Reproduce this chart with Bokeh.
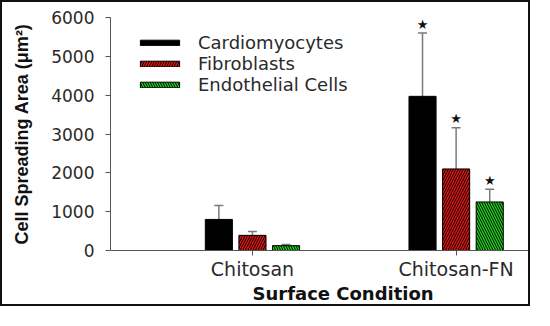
from bokeh.plotting import figure
from bokeh.models import ColumnDataSource, Whisker, TeeHead, Legend, LegendItem, FixedTicker, Title
from bokeh.embed import file_html
from bokeh.resources import INLINE
from bokeh.core.properties import value

# ---- data ----
categories = ["Chitosan", "Chitosan-FN"]
series = ["Cardiomyocytes", "Fibroblasts", "Endothelial Cells"]
cardio_mean = [800, 3970]
cardio_err = [360, 1630]
fibro_mean = [390, 2100]
fibro_err = [100, 1060]
endo_mean = [125, 1250]
endo_err = [30, 330]
significant = [False, True]
y_ticks = [0, 1000, 2000, 3000, 4000, 5000, 6000]

means = [cardio_mean, fibro_mean, endo_mean]
errs = [cardio_err, fibro_err, endo_err]

# ---- styles ----
colors = ["#000000", "#e31414", "#1ed21e"]
hatches = [" ", "/", "\\"]
offsets = [-0.165, 0.0, 0.165]
bar_w = 0.133
AXIS = "#555555"
TXT = "#2a2a2a"
FONT = "DejaVu Sans"

cat_x = [i + 1 for i in range(len(categories))]

p = figure(width=530, height=306, output_backend="svg", toolbar_location=None,
           x_range=(0.303, 2.375), y_range=(0, 6000),
           min_border_left=108, min_border_right=0, min_border_top=15, min_border_bottom=58,
           background_fill_color="white", border_fill_color="white")
p.styles = {"border": "2px solid #111111"}
p.outline_line_color = None
p.xgrid.grid_line_color = None
p.ygrid.grid_line_color = None

items = []
for k, name in enumerate(series):
    xs = [c + offsets[k] for c in cat_x]
    tops = [m + e for m, e in zip(means[k], errs[k])]
    src = ColumnDataSource(dict(x=xs, top=means[k], upper=tops))
    r = p.vbar(x="x", top="top", width=bar_w, source=src,
               fill_color=colors[k], line_color="black", line_width=1,
               hatch_pattern=hatches[k], hatch_color="black", hatch_scale=5, hatch_weight=1)
    items.append(LegendItem(label=name, renderers=[r]))
    w = Whisker(base="x", lower="top", upper="upper", source=src, dimension="height",
                line_color="#7a7a7a", line_width=1.5,
                upper_head=TeeHead(size=9, line_color="#7a7a7a", line_width=1.5),
                lower_head=None)
    p.add_layout(w)
    sx = [x for x, s in zip(xs, significant) if s]
    sy = [t for t, s in zip(tops, significant) if s]
    p.text(x=sx, y=sy, text=["\u2605"] * len(sx), text_align="center", text_baseline="middle",
           y_offset=-9, text_font=value(FONT), text_font_size="13px", text_color="#111111")

legend = Legend(items=items, location=(25, 155), orientation="vertical",
                glyph_width=49, glyph_height=7, label_standoff=14, label_height=20,
                spacing=0, padding=0, margin=0, border_line_color=None,
                background_fill_alpha=0, label_text_font=FONT, label_text_font_size="18px",
                label_text_color=TXT)
p.add_layout(legend)

# x axis
p.xaxis.ticker = FixedTicker(ticks=cat_x)
p.xaxis.major_label_overrides = {c: name for c, name in zip(cat_x, categories)}
p.xaxis.minor_tick_line_color = None
p.xaxis.major_tick_in = 0
p.xaxis.major_tick_out = 5
p.xaxis.axis_line_color = AXIS
p.xaxis.major_tick_line_color = AXIS
p.xaxis.major_label_text_font = FONT
p.xaxis.major_label_text_font_size = "19px"
p.xaxis.major_label_text_color = TXT
p.xaxis.major_label_standoff = 2

# y axis
p.yaxis.ticker = FixedTicker(ticks=y_ticks)
p.yaxis.minor_tick_line_color = None
p.yaxis.major_tick_in = 0
p.yaxis.major_tick_out = 5
p.yaxis.axis_line_color = AXIS
p.yaxis.major_tick_line_color = AXIS
p.yaxis.major_label_text_font = FONT
p.yaxis.major_label_text_font_size = "17px"
p.yaxis.major_label_text_color = TXT
p.yaxis.major_label_standoff = 11
p.yaxis.axis_label = "Cell Spreading Area (\u03bcm\u00b2)"
p.yaxis.axis_label_text_font = "Liberation Sans"
p.yaxis.axis_label_text_font_style = "bold"
p.yaxis.axis_label_text_font_size = "18px"
p.yaxis.axis_label_text_color = "#111111"
p.yaxis.axis_label_standoff = 16

xt = Title(text="Surface Condition", align="left", offset=142, vertical_align="top",
           standoff=0, text_font=FONT, text_font_style="bold", text_font_size="18px",
           text_color="#111111")
p.add_layout(xt, "below")

open("out.html", "w").write(file_html(p, INLINE))
